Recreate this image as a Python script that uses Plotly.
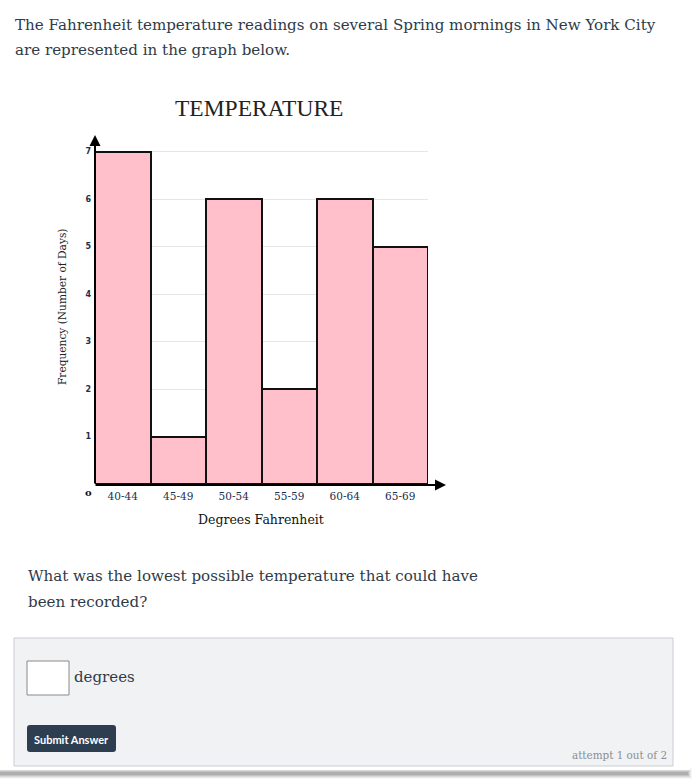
import plotly.graph_objects as go

# ---- data ----
categories = ["40-44", "45-49", "50-54", "55-59", "60-64", "65-69"]
frequencies = [7, 1, 6, 2, 6, 5]
y_ticks = [1, 2, 3, 4, 5, 6, 7]

W, H = 699, 784


def px(x):
    return x / W


def py(y):
    return 1 - y / H


SERIF = "DejaVu Serif"
TEXT = "#2f3b48"

fig = go.Figure()
fig.add_trace(go.Bar(
    x=categories, y=frequencies,
    marker=dict(color="#ffc0cb", line=dict(color="#111111", width=2)),
    hoverinfo="x+y",
))

shapes = []
# card shadow
for i, a in enumerate([0.05, 0.08, 0.12, 0.16, 0.2]):
    shapes.append(dict(type="rect", xref="paper", yref="paper",
                       x0=px(0), x1=px(692 - i), y0=py(779 - i), y1=py(768 + i),
                       line=dict(width=0), fillcolor=f"rgba(90,90,90,{a})", layer="below"))
shapes.append(dict(type="rect", xref="paper", yref="paper",
                   x0=px(0), x1=px(690), y0=py(770), y1=py(0),
                   line=dict(width=0), fillcolor="white", layer="below"))
# answer panel
shapes.append(dict(type="rect", xref="paper", yref="paper",
                   x0=px(14), x1=px(673), y0=py(766), y1=py(638),
                   line=dict(color="#c9ced4", width=1), fillcolor="#f1f2f4", layer="below"))
# input box
shapes.append(dict(type="rect", xref="paper", yref="paper",
                   x0=px(27), x1=px(69), y0=py(695), y1=py(661),
                   line=dict(color="#8a8a8a", width=1), fillcolor="white", layer="below"))
# submit button (rounded)
bx0, bx1, by0, by1, r = 27, 116, 725, 752, 3
path = (f"M {px(bx0 + r)} {py(by0)} L {px(bx1 - r)} {py(by0)} "
        f"Q {px(bx1)} {py(by0)} {px(bx1)} {py(by0 + r)} L {px(bx1)} {py(by1 - r)} "
        f"Q {px(bx1)} {py(by1)} {px(bx1 - r)} {py(by1)} L {px(bx0 + r)} {py(by1)} "
        f"Q {px(bx0)} {py(by1)} {px(bx0)} {py(by1 - r)} L {px(bx0)} {py(by0 + r)} "
        f"Q {px(bx0)} {py(by0)} {px(bx0 + r)} {py(by0)} Z")
shapes.append(dict(type="path", xref="paper", yref="paper", path=path,
                   line=dict(width=0), fillcolor="#2c3e50", layer="below"))

annotations = []


def text(x, y, s, size, color=TEXT, family=SERIF, xanchor="left", angle=0, weight="normal"):
    annotations.append(dict(x=px(x), y=py(y), xref="paper", yref="paper", text=s,
                            showarrow=False, xanchor=xanchor, yanchor="middle",
                            textangle=angle,
                            font=dict(family=family, size=size, color=color, weight=weight)))


text(13, 25, "The Fahrenheit temperature readings on several Spring mornings in New York City", 15.1)
text(13, 50, "are represented in the graph below.", 15.1)
text(259, 108, "TEMPERATURE", 23.5, color="#222222", family="Liberation Serif", xanchor="center")
text(62, 307, "Frequency (Number of Days)", 10.6, color="#222222", xanchor="center", angle=-90)
text(261, 519, "Degrees Fahrenheit", 12.5, color="#111111", xanchor="center")
text(88, 492, "o", 10, color="#111111", xanchor="center", weight="bold")
text(26, 576, "What was the lowest possible temperature that could have", 15.1)
text(26, 602, "been recorded?", 15.1)
text(72, 677, "degrees", 15)
text(71.5, 739, "Submit Answer", 11, color="white", family="Lato", xanchor="center", weight="bold")
text(669, 755, "attempt 1 out of 2", 10.4, color="#8a8f96", xanchor="right")

# axis arrows
annotations.append(dict(x=px(95), y=py(135), xref="paper", yref="paper", ax=0, ay=350,
                        text="", showarrow=True, arrowhead=2, arrowsize=1.1, arrowwidth=2,
                        arrowcolor="black", standoff=0, startstandoff=0))
annotations.append(dict(x=px(446), y=py(485), xref="paper", yref="paper", ax=-352, ay=0,
                        text="", showarrow=True, arrowhead=2, arrowsize=1.1, arrowwidth=2,
                        arrowcolor="black", standoff=0, startstandoff=0))

fig.update_layout(
    width=W, height=H,
    margin=dict(l=0, r=0, t=0, b=0),
    paper_bgcolor="white", plot_bgcolor="white",
    showlegend=False, bargap=0,
    shapes=shapes, annotations=annotations,
    xaxis=dict(domain=[px(95), px(428)], range=[-0.5, 5.5], showgrid=False,
               zeroline=False, showline=False, ticks="", fixedrange=True,
               tickfont=dict(family=SERIF, size=10.5, color="#1d2f4f"),
               ticklabelstandoff=4),
    yaxis=dict(domain=[py(484), py(135)], range=[0, 7.35], tickmode="array",
               tickvals=y_ticks, ticktext=[str(v) for v in y_ticks],
               showgrid=True, gridcolor="#e6e6e6", gridwidth=1,
               zeroline=False, showline=False, ticks="", fixedrange=True,
               tickfont=dict(family="DejaVu Sans", size=8, color="#1d2f4f", weight="bold"),
               ticklabelstandoff=3),
)

fig.write_html("out.html")
